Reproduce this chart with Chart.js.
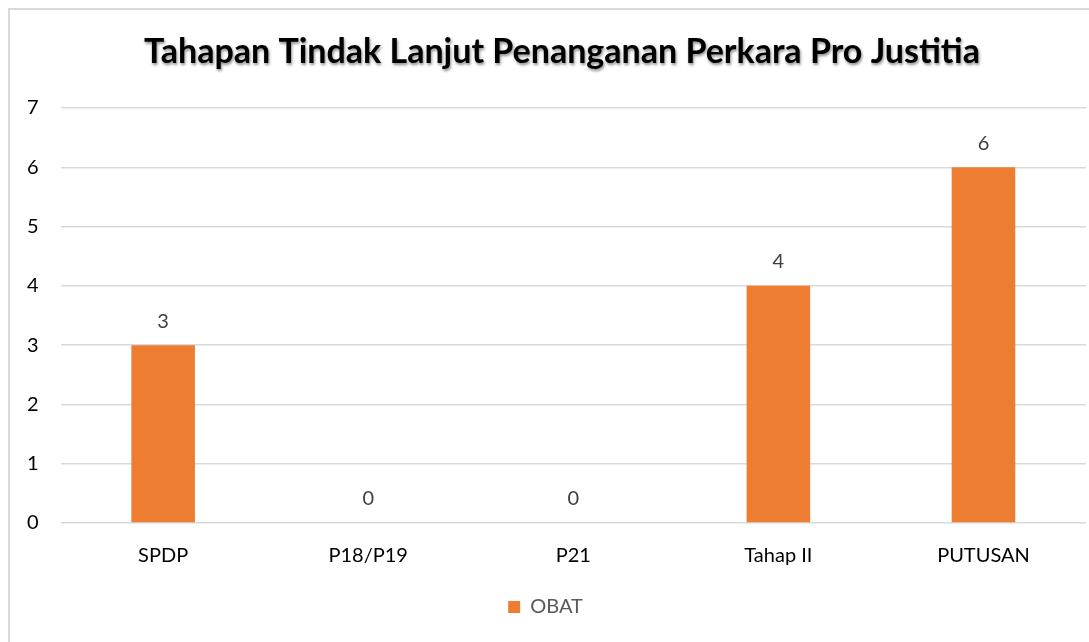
<!DOCTYPE html>
<html>
<head>
<meta charset="utf-8">
<script src="https://cdn.jsdelivr.net/npm/chart.js@4.4.0/dist/chart.umd.min.js"></script>
<style>
  html, body { margin: 0; padding: 0; background: #fff; }
  #wrap { position: relative; width: 1089px; height: 642px; }
  #frame { position: absolute; left: 8px; top: 8px; right: -10px; bottom: -10px;
           border-left: 2px solid #d9d9d9; border-top: 2px solid #d9d9d9; }
  canvas { position: absolute; left: 0; top: 0; }
</style>
</head>
<body>
<div id="wrap">
  <div id="frame"></div>
  <canvas id="myChart" width="1089" height="642"></canvas>
</div>
<script>
const chartTitle = "Tahapan Tindak Lanjut Penanganan Perkara Pro Justitia";
const categories = ["SPDP", "P18/P19", "P21", "Tahap II", "PUTUSAN"];
const seriesName = "OBAT";
const obatValues = [3, 0, 0, 4, 6];
const yTicks = [0, 1, 2, 3, 4, 5, 6, 7];

const orange = "#ed7d31";

// title with a soft shadow like the original
const titlePlugin = {
  id: "shadowTitle",
  afterDraw(chart) {
    const ctx = chart.ctx;
    ctx.save();
    ctx.font = "bold 34px Lato";
    ctx.fillStyle = "#000";
    ctx.textAlign = "center";
    ctx.textBaseline = "middle";
    ctx.shadowColor = "rgba(0,0,0,0.45)";
    ctx.shadowBlur = 3;
    ctx.shadowOffsetX = 1;
    ctx.shadowOffsetY = 2;
    ctx.fillText(chartTitle, 562, 52);
    ctx.restore();
  }
};

// value labels above bars
const valueLabels = {
  id: "valueLabels",
  afterDatasetsDraw(chart) {
    const ctx = chart.ctx;
    ctx.save();
    ctx.font = "20px Lato";
    ctx.fillStyle = "#404040";
    ctx.textAlign = "center";
    ctx.textBaseline = "middle";
    chart.getDatasetMeta(0).data.forEach((bar, i) => {
      ctx.fillText(String(obatValues[i]), bar.x, bar.y - 24);
    });
    ctx.restore();
  }
};

var ctx = document.getElementById("myChart").getContext("2d");
var myChart = new Chart(ctx, {
  type: "bar",
  data: {
    labels: categories,
    datasets: [{
      label: seriesName,
      data: obatValues,
      backgroundColor: orange,
      categoryPercentage: 1,
      barPercentage: 0.31
    }]
  },
  options: {
    responsive: false,
    animation: false,
    layout: { padding: { left: 5, right: 3, top: 108, bottom: 15 } },
    plugins: {
      title: { display: false },
      tooltip: { enabled: false },
      legend: {
        position: "bottom",
        labels: {
          boxWidth: 12, boxHeight: 12, padding: 16,
          color: "#595959",
          font: { family: "Lato", size: 20 }
        }
      }
    },
    scales: {
      x: {
        grid: { display: false },
        border: { display: false },
        ticks: { color: "#000", padding: 13, font: { family: "Lato", size: 20 } }
      },
      y: {
        min: 0, max: 7,
        afterBuildTicks: (axis) => { axis.ticks = yTicks.map(v => ({ value: v })); },
        grid: { color: "#d9d9d9", lineWidth: 1.5, drawTicks: false },
        border: { display: false },
        ticks: { color: "#000", padding: 22, font: { family: "Lato", size: 20 } }
      }
    }
  },
  plugins: [titlePlugin, valueLabels]
});
</script>
</body>
</html>
